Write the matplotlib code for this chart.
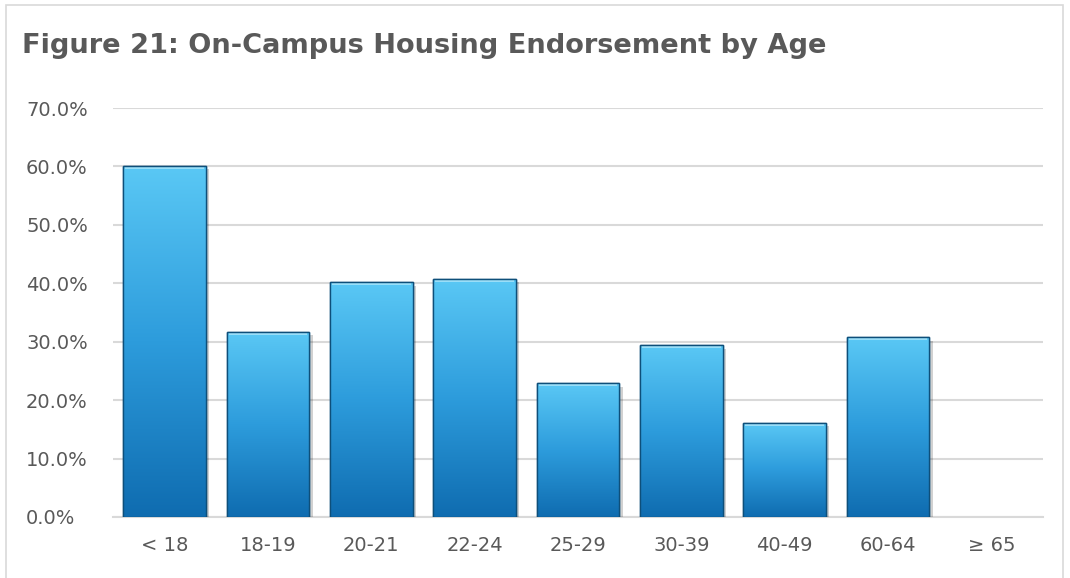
import matplotlib
matplotlib.use("Agg")
import matplotlib.pyplot as plt
import numpy as np
from matplotlib.patches import Rectangle
from matplotlib.colors import LinearSegmentedColormap
import matplotlib.patheffects as pe
from matplotlib.ticker import FuncFormatter

categories = ["< 18", "18-19", "20-21", "22-24", "25-29", "30-39", "40-49", "60-64", "≥ 65"]
values = [60.1, 31.7, 40.2, 40.8, 22.9, 29.4, 16.1, 30.8, 0.0]
yticks = [0, 10, 20, 30, 40, 50, 60, 70]
title = "Figure 21: On-Campus Housing Endorsement by Age"

plt.rcParams['font.family'] = ['DejaVu Sans']
text_color = "#595959"
grid_color = "#D9D9D9"

fig = plt.figure(figsize=(10.70, 5.78), dpi=100)
fig.patch.set_facecolor("white")
fig.patches.append(Rectangle((6/1070, -0.01), (1063-6)/1070, 1 - 5/578 + 0.01,
                             transform=fig.transFigure, fill=False,
                             edgecolor=grid_color, linewidth=1.2))
fig.text(22/1070, 1 - 46/578, title, fontsize=19.6, fontweight="bold",
         color=text_color, va="center", ha="left")

ax = fig.add_axes([113/1070, 1 - 517/578, (1043-113)/1070, (517-108)/578])
x = np.arange(len(categories))
bars = ax.bar(x, values, width=0.8, color="#3AA8E4", edgecolor="#0E4F7A",
              linewidth=1.0, zorder=3)

cmap = LinearSegmentedColormap.from_list("bar", ["#0F6CB0", "#2D9CDC", "#5AC8F5"])
grad = np.linspace(0, 1, 256).reshape(-1, 1)
for b in bars:
    h = b.get_height()
    if h <= 0:
        b.set_visible(False)
        continue
    b.set_path_effects([pe.SimplePatchShadow(offset=(2.5, -2.5), shadow_rgbFace="#000000", alpha=0.18), pe.Normal()])
    x0, w = b.get_x(), b.get_width()
    im = ax.imshow(grad, extent=(x0, x0 + w, 0, h), origin="lower", cmap=cmap,
                   aspect="auto", zorder=3.5, interpolation="bicubic")
    im.set_clip_path(b)
    ax.plot([x0 + 0.02, x0 + w - 0.02], [h - 0.35, h - 0.35], color="#A8E4FA",
            linewidth=1.2, zorder=4, solid_capstyle="butt")
    ax.add_patch(Rectangle((x0, 0), w, h, fill=False, edgecolor="#0E4F7A",
                           linewidth=1.0, zorder=4.5))

ax.set_xlim(-0.5, len(categories) - 0.5)
ax.set_ylim(0, 70)
ax.set_yticks(yticks)
ax.yaxis.set_major_formatter(FuncFormatter(lambda v, p: f"{v:.1f}%"))
ax.set_xticks(x)
ax.set_xticklabels(categories)
ax.tick_params(axis="both", length=0, labelsize=14, colors=text_color)
ax.tick_params(axis="x", pad=14)
for lbl in ax.get_yticklabels():
    lbl.set_horizontalalignment("left")
ax.yaxis.set_tick_params(pad=(113 - 26) * 72 / 100)
ax.grid(axis="y", color=grid_color, linewidth=1.5, zorder=0)
ax.set_axisbelow(True)
for s in ["left", "right", "top"]:
    ax.spines[s].set_visible(False)
ax.spines["bottom"].set_color(grid_color)
ax.spines["bottom"].set_linewidth(1.5)

fig.savefig("out.png", dpi=100)
